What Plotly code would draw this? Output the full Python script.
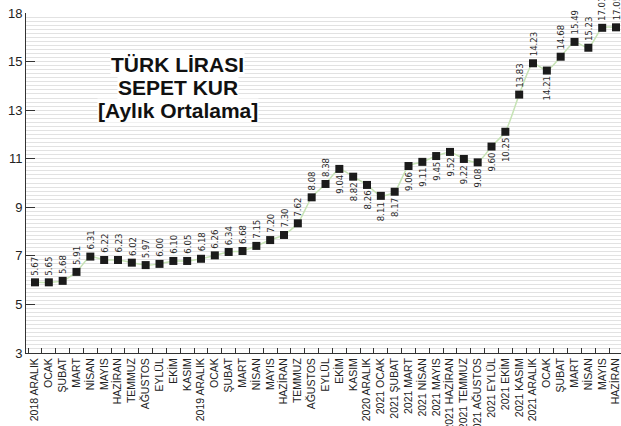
import numpy as np
import plotly.graph_objects as go

months = ["2018 ARALIK", "OCAK", "ŞUBAT", "MART", "NİSAN", "MAYIS", "HAZİRAN", "TEMMUZ",
          "AĞUSTOS", "EYLÜL", "EKİM", "KASIM",
          "2019 ARALIK", "OCAK", "ŞUBAT", "MART", "NİSAN", "MAYIS", "HAZİRAN", "TEMMUZ",
          "AĞUSTOS", "EYLÜL", "EKİM", "KASIM",
          "2020 ARALIK", "2021 OCAK", "2021 ŞUBAT", "2021 MART", "2021 NİSAN", "2021 MAYIS",
          "2021 HAZİRAN", "2021 TEMMUZ", "2021 AĞUSTOS", "2021 EYLÜL", "2021 EKİM",
          "2021 KASIM", "2021 ARALIK",
          "OCAK", "ŞUBAT", "MART", "NİSAN", "MAYIS", "HAZİRAN"]

# marker heights as drawn on the chart's (evenly spaced) value axis
plot_values = [5.91, 5.91, 5.97, 6.34, 6.97, 6.83, 6.83, 6.72, 6.62, 6.67,
               6.79, 6.79, 6.88, 7.02, 7.16, 7.20, 7.41, 7.65, 7.86, 8.34,
               9.41, 9.96, 10.58, 10.26, 9.92, 9.47, 9.64, 10.70, 10.87, 11.11,
               11.28, 10.99, 10.85, 11.50, 12.11, 13.64, 14.93, 14.63, 15.20, 15.81,
               15.57, 16.39, 16.41]

# printed value labels
label_values = ["5.67", "5.65", "5.68", "5.91", "6.31", "6.22", "6.23", "6.02", "5.97", "6.00",
                "6.10", "6.05", "6.18", "6.26", "6.34", "6.68", "7.15", "7.20", "7.30", "7.62",
                "8.08", "8.38", "9.04", "8.82", "8.26", "8.11", "8.17", "9.06", "9.11", "9.45",
                "9.52", "9.22", "9.08", "9.60", "10.25", "13.83", "14.23", "14.21", "14.68", "15.49",
                "15.23", "17.01", "17.05"]

# label placement: above (a) or below (b) the marker
label_side = ["a"] * 22 + ["b"] * 13 + ["a", "a", "b", "a", "a", "a", "a", "a"]

y_tick_vals = [3, 5, 7, 9, 11, 13, 15, 17]
y_tick_text = ["3", "5", "7", "9", "11", "13", "15", "18"]

title_lines = ["TÜRK LİRASI", "SEPET KUR", "[Aylık Ortalama]"]

x = list(range(len(months)))

fig = go.Figure()
fig.add_trace(go.Scatter(
    x=x, y=plot_values, mode="lines+markers",
    line=dict(color="#c6e3b5", width=1.5, shape="spline", smoothing=0.6),
    marker=dict(symbol="square", size=8, color="#1b1b1b"),
    hoverinfo="skip", showlegend=False,
))

annotations = []
label_font = dict(family="Liberation Sans Narrow, DejaVu Sans Condensed, Arial Narrow, Liberation Sans",
                  size=9.5, color="#2a2a2a")
for xi, yv, txt, side in zip(x, plot_values, label_values, label_side):
    if side == "a":
        annotations.append(dict(x=xi, y=yv, text=txt, showarrow=False, textangle=-90,
                                xanchor="center", yanchor="bottom", yshift=5,
                                font=label_font))
    else:
        annotations.append(dict(x=xi, y=yv, text=txt, showarrow=False, textangle=-90,
                                xanchor="center", yanchor="top", yshift=-4,
                                font=label_font))

title_y = [0.85, 0.781, 0.712]
for line, ty in zip(title_lines, title_y):
    annotations.append(dict(xref="paper", yref="paper", x=0.255, y=ty, text="<b>" + line + "</b>",
                            showarrow=False, xanchor="center", yanchor="middle",
                            bgcolor="white", borderpad=0,
                            font=dict(family="Liberation Sans, Arial", size=21, color="#111111")))

stripe_vals = list(np.arange(3, 17.001, 1 / 6))
boundaries = [i - 0.5 for i in range(len(months) + 1)]

fig.update_layout(
    width=621, height=426,
    margin=dict(l=26, r=0, t=13, b=73),
    paper_bgcolor="white", plot_bgcolor="white",
    annotations=annotations,
    font=dict(family="Liberation Sans, Arial", color="#222222"),
    xaxis=dict(
        range=[-0.65, 42.36], tickmode="array", tickvals=x, ticktext=months,
        tickangle=-90, tickfont=dict(size=10.5, color="#222222"),
        ticks="", showgrid=False, zeroline=False, automargin=False,
        ticklabeloverflow="allow",
        showline=True, linecolor="#333333", linewidth=1,
        minor=dict(tickmode="array", tickvals=boundaries, ticks="inside", ticklen=5,
                   tickcolor="#333333", showgrid=False),
    ),
    yaxis=dict(
        range=[3, 17], tickmode="array", tickvals=y_tick_vals, ticktext=y_tick_text,
        tickfont=dict(size=13, color="#222222"),
        ticks="inside", ticklen=9, tickcolor="#333333", automargin=False,
        ticklabeloverflow="allow",
        showgrid=True, gridcolor="#e2e2e2", gridwidth=1, zeroline=False,
        showline=True, linecolor="#333333", linewidth=1,
        minor=dict(tickmode="array", tickvals=stripe_vals, showgrid=True,
                   gridcolor="#e2e2e2", gridwidth=1, ticks=""),
    ),
)

fig.write_html("out.html",
               config={"displayModeBar": False},
               post_script="document.body.style.margin='0px';document.body.style.overflow='hidden';")
